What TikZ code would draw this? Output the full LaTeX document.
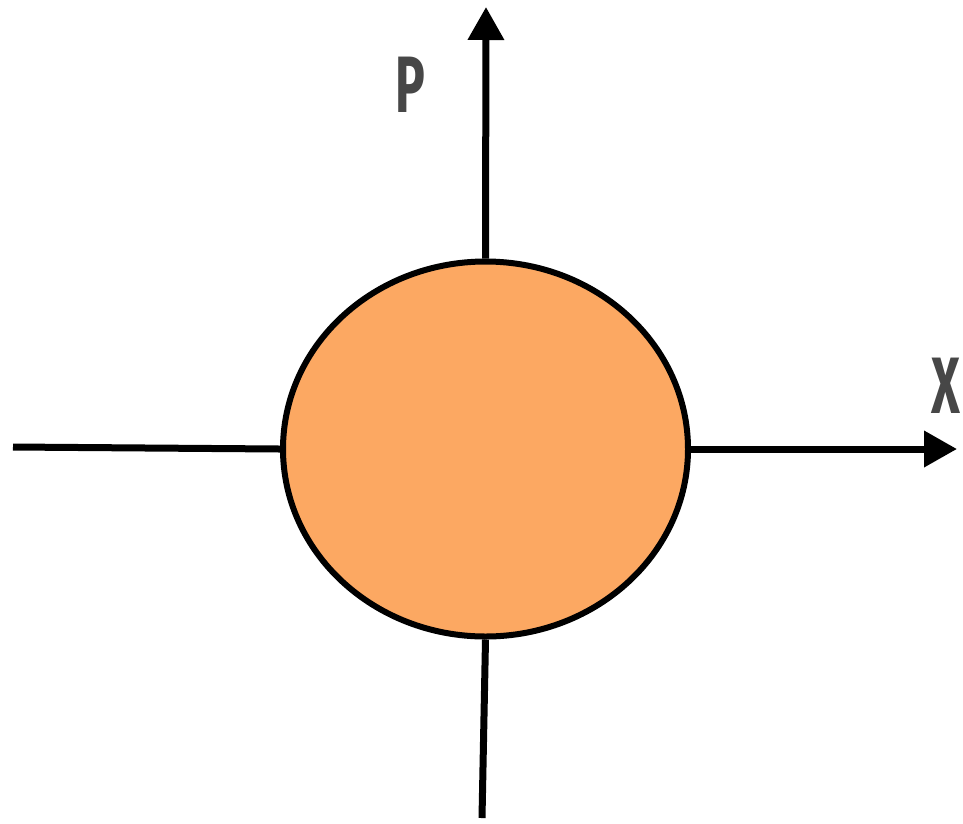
\documentclass[tikz,border=0pt]{standalone}
\usepackage{fontspec}
\setmainfont{Fira Sans}
\usetikzlibrary{shapes.geometric,arrows.meta}
\definecolor{blob}{HTML}{FCA862}
\definecolor{lbl}{HTML}{474747}
\begin{document}
\begin{tikzpicture}[x=1pt,y=-1pt,
  axis/.style={line width=7pt},
  axisarrow/.style={axis,-{Triangle[length=33pt,width=35pt]}},
  lab/.style={text=lbl,font=\fontsize{80}{80}\selectfont\bfseries,xscale=0.62,inner sep=0pt,anchor=base}]
\useasboundingbox (0,0) rectangle (963,823);
\node[ellipse,draw,line width=6pt,fill=blob,minimum width=405pt,minimum height=375pt,inner sep=0pt] (c) at (485.5,449) {};
\coordinate (ptop) at (486,7);
\coordinate (pbot) at (482,818);
\coordinate (xleft) at (13,447);
\coordinate (xright) at (957,449);
\draw[axisarrow] (c.north) -- (ptop);
\draw[axis] (c.south) -- (pbot);
\draw[axis] (xleft) -- (c.west);
\draw[axisarrow] (c.east) -- (xright);
\node[lab] (P) at (410,112) {P};
\node[lab] (X) at (946,413) {X};
\end{tikzpicture}
\end{document}
